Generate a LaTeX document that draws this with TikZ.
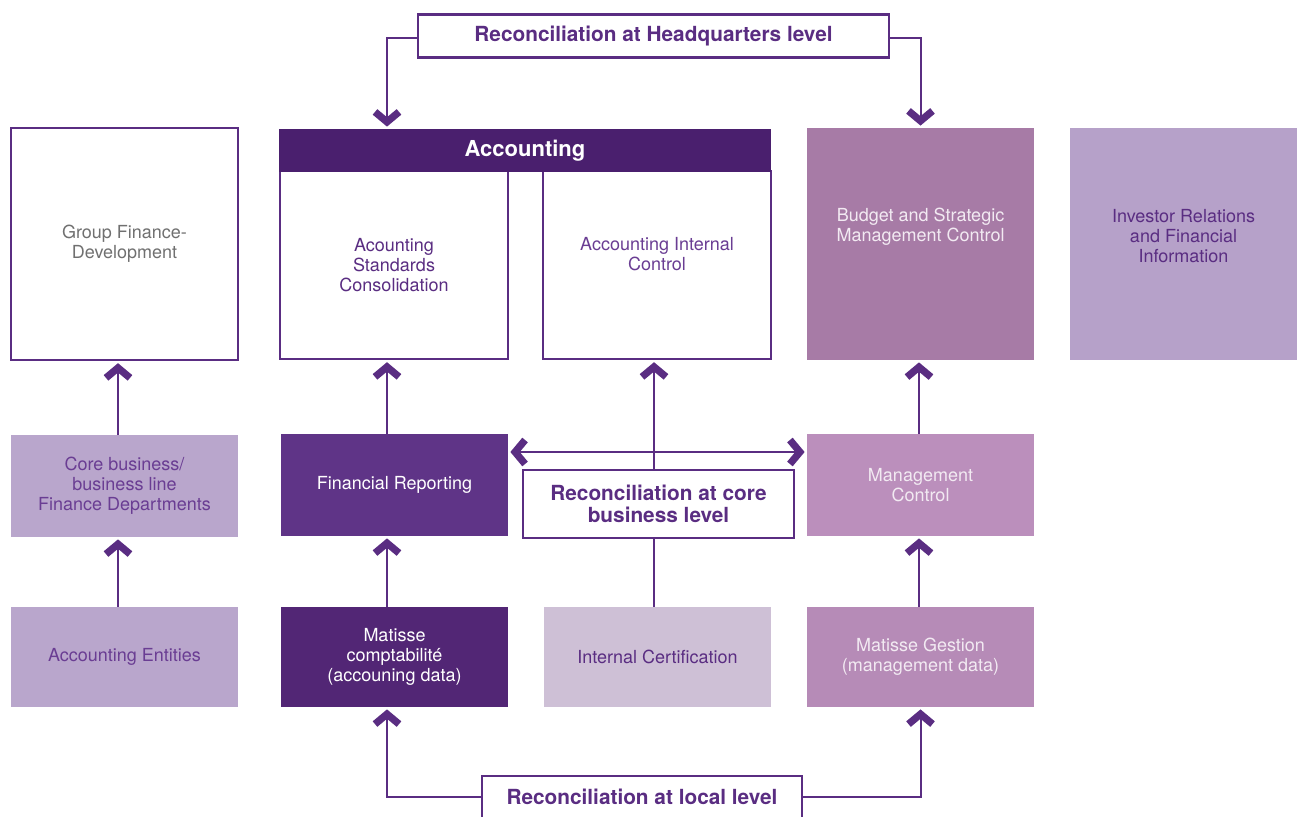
\documentclass[tikz,border=0pt]{standalone}
\usepackage{fontspec}
\setmainfont{TeX Gyre Heros}
\usepackage{tikz}
\usetikzlibrary{positioning}
\usetikzlibrary{arrows.meta}

\definecolor{purp}{HTML}{5A2D82}
\definecolor{purpmid}{HTML}{6A3D93}
\definecolor{dark}{HTML}{4A1F6E}
\definecolor{report}{HTML}{5F3487}
\definecolor{matcomp}{HTML}{522675}
\definecolor{lav}{HTML}{B9A6CC}
\definecolor{invest}{HTML}{B6A1C9}
\definecolor{budget}{HTML}{A77BA6}
\definecolor{mgmt}{HTML}{BB8FBC}
\definecolor{gest}{HTML}{B68BB7}
\definecolor{certif}{HTML}{CEC0D6}
\definecolor{gfdgray}{HTML}{707070}
\definecolor{paletext}{HTML}{F2EAF2}

\tikzset{
  chev/.tip={Straight Barb[length=5pt, width=12pt, line width=3.6pt, sharp]},
  box/.style={inner sep=0pt, minimum width=113.5pt, align=center},
  tall/.style={box, minimum height=116pt},
  flat/.style={box, minimum height=51pt},
  frame/.style={draw=purp, line width=1.2pt, fill=white},
  recon/.style={draw=purp, line width=1.1pt, fill=white, text=purp, inner sep=0pt,
    align=center, font=\fontsize{10.4}{11}\selectfont\bfseries},
  link/.style={purp, line width=1pt},
  up/.style={link, -chev, shorten >=1pt},
  both/.style={link, chev-chev, shorten >=1pt, shorten <=1pt},
}

\begin{document}
\begin{tikzpicture}[x=0.5pt, y=-0.5pt, font=\fontsize{9}{10}\selectfont]
\useasboundingbox (0,0) rectangle (1304,817);

% columns of the arrows
\coordinate (c1) at (118,0);
\coordinate (c2) at (387,0);
\coordinate (c3) at (654,0);
\coordinate (c4) at (919,0);
\coordinate (mid) at (0,452);

% headquarters row
\node[tall, frame, text=gfdgray] (gfd) at (124.5,244) {Group Finance-\\Development};
\node[box, frame, minimum width=114pt, minimum height=94pt, text=purp] (asc) at (394,265)
  {Acounting\\Standards\\Consolidation};
\node[box, frame, minimum width=114pt, minimum height=94pt] (aic) at (657,265) {};
\node[text=purpmid, align=center] (aic-t) at (657,254) {Accounting Internal\\Control};
\node[box, fill=dark, minimum width=246pt, minimum height=21.5pt, text=white,
  font=\fontsize{11}{12}\selectfont\bfseries] (acc) at (525,150.5) {\raisebox{-1.5pt}{Accounting}};
\node[tall, fill=budget] (bsm) at (920.5,244) {};
\node[text=paletext, align=center] (bsm-t) at (920.5,227) {Budget and Strategic\\Management Control};
\node[tall, fill=invest] (irf) at (1183.5,244) {};
\node[text=purp, align=center] (irf-t) at (1183.5,236) {Investor Relations\\and Financial\\Information};

% core business row
\node[flat, fill=lav, text=purpmid] (core) at (124.5,486) {Core business/\\business line\\Finance Departments};
\node[flat, fill=report, text=white] (frep) at (394.5,485) {\raisebox{-1.5pt}{Financial Reporting}};
\node[flat, fill=mgmt, text=paletext] (mgc) at (920.5,485) {Management\\Control};

% local row
\node[box, fill=lav, minimum height=50pt, text=purpmid] (ent) at (124.5,657) {Accounting Entities};
\node[box, fill=matcomp, minimum height=50pt, text=white] (mcomp) at (394.5,657)
  {Matisse\\comptabilit\'e\\(accouning data)};
\node[box, fill=certif, minimum height=50pt, text=purp] (icert) at (657.5,657) {Internal Certification};
\node[box, fill=gest, minimum height=50pt, text=paletext] (mges) at (920.5,657)
  {Matisse Gestion\\(management data)};

% reconciliation labels
\node[recon, minimum width=235.5pt, minimum height=21.5pt] (hq) at (653.5,36)
  {Reconciliation at Headquarters level};
\node[recon, minimum width=160pt, minimum height=21pt] (local) at (642,797)
  {Reconciliation at local level};

% upward flows
\draw[up] (core.north -| c1) -- (gfd.south -| c1);
\draw[up] (ent.north -| c1) -- (core.south -| c1);
\draw[up] (frep.north -| c2) -- (asc.south -| c2);
\draw[up] (mcomp.north -| c2) -- (frep.south -| c2);
\draw[up] (icert.north -| c3) -- (aic.south -| c3);
\draw[up] (mgc.north -| c4) -- (bsm.south -| c4);
\draw[up] (mges.north -| c4) -- (mgc.south -| c4);
\draw[both] (frep.east |- mid) -- (mgc.west |- mid);

\node[recon, minimum width=135.5pt, minimum height=34pt] (corelvl) at (658.5,504)
  {Reconciliation at core\\business level};

% headquarters and local reconciliation
\draw[up] ([yshift=-1pt]hq.west) -| (acc.north -| c2);
\draw[up] ([yshift=-1pt]hq.east) -| (bsm.north);
\draw[up] (local.west) -| (mcomp.south -| c2);
\draw[up] (local.east) -| (mges.south);
\end{tikzpicture}
\end{document}
